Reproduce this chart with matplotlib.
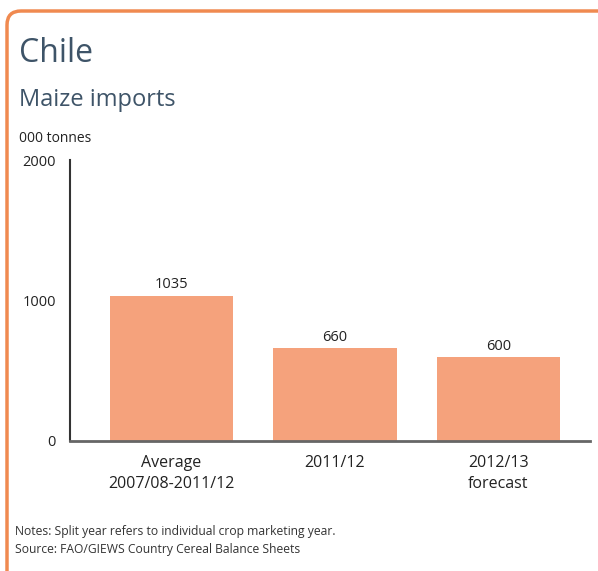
import matplotlib.pyplot as plt
from matplotlib.path import Path
from matplotlib.patches import PathPatch

# --- datos ---
categorias = ["Average\n2007/08-2011/12", "2011/12", "2012/13\nforecast"]
valores = [1035, 660, 600]
ticks_y = [0, 1000, 2000]

plt.rcParams['font.family'] = ['Open Sans', 'DejaVu Sans']

fig = plt.figure(figsize=(5.98, 5.71), dpi=100)
W, H = 598, 571

def px(x, y):
    # pixeles (origen arriba-izquierda) -> fraccion de figura
    return (x / W, 1 - y / H)

# marco naranja (arriba e izquierda, esquina redondeada)
r = 14
verts = [px(7, 590), px(7, 11 + r), px(7, 11), px(7 + r, 11), px(620, 11)]
codes = [Path.MOVETO, Path.LINETO, Path.CURVE3, Path.CURVE3, Path.LINETO]
marco = PathPatch(Path(verts, codes), transform=fig.transFigure, fill=False,
                  edgecolor="#F08A50", linewidth=2.5)
fig.patches.append(marco)

titulo_color = "#3E5468"
fig.text(19 / W, 1 - 54 / H, "Chile", fontsize=23, color=titulo_color, va="center")
fig.text(19 / W, 1 - 100 / H, "Maize imports", fontsize=17, color=titulo_color, va="center")
fig.text(19 / W, 1 - 139 / H, "000 tonnes", fontsize=10, color="#222222", va="center")

ax = fig.add_axes([70 / W, 1 - 441 / H, (590 - 70) / W, (441 - 160) / H])
x = range(len(valores))
barras = ax.bar(x, valores, width=0.755, color="#F5A27C")
for xi, v in zip(x, valores):
    ax.text(xi, v + 22, str(v), ha="center", va="bottom", fontsize=10.5, color="#222222")

ax.set_xlim(-0.62, 2.56)
ax.set_ylim(0, 2000)
ax.set_yticks(ticks_y)
ax.set_yticklabels([str(t) for t in ticks_y], fontsize=10.5, color="#222222")
ax.set_xticks(list(x))
ax.set_xticklabels(categorias, fontsize=11.5, color="#222222", linespacing=1.4)
ax.tick_params(axis="y", length=0, pad=10)
ax.tick_params(axis="x", length=0, pad=10)
for lado in ["top", "right"]:
    ax.spines[lado].set_visible(False)
ax.spines["left"].set_color("#333333")
ax.spines["left"].set_linewidth(1.5)
ax.spines["bottom"].set_color("#666666")
ax.spines["bottom"].set_linewidth(2)

fig.text(15 / W, 1 - 531 / H, "Notes: Split year refers to individual crop marketing year.",
         fontsize=8.7, color="#333333", va="center")
fig.text(15 / W, 1 - 550 / H, "Source: FAO/GIEWS Country Cereal Balance Sheets",
         fontsize=8.7, color="#333333", va="center")

fig.savefig("out.png", dpi=100)
